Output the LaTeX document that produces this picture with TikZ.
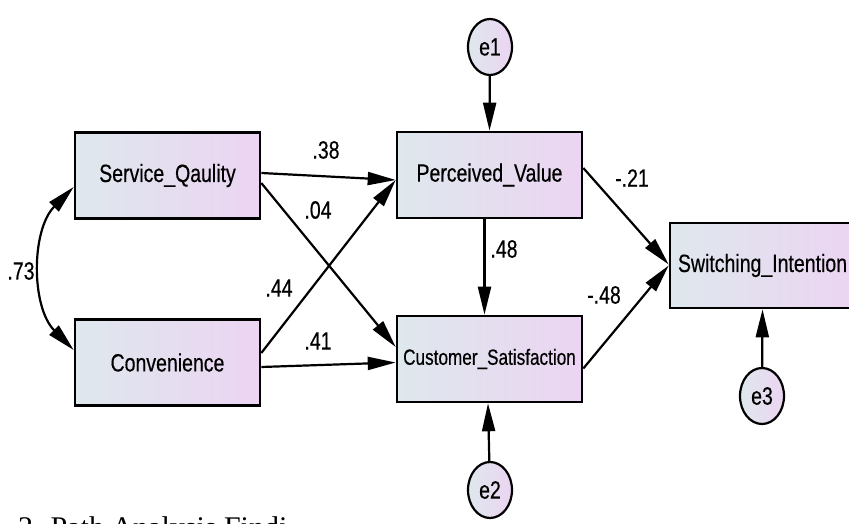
\documentclass[tikz,border=0pt]{standalone}
\usepackage{fontspec}
\newfontfamily\amos{Liberation Sans}[FakeStretch=0.78,FakeBold=0.4]
\newfontfamily\capfont{Liberation Serif}
\usetikzlibrary{arrows.meta,shapes.geometric}
\definecolor{lcol}{RGB}{222,232,237}
\definecolor{rcol}{RGB}{236,212,242}
\begin{document}
\begin{tikzpicture}[x=1pt,y=-1pt,
  var/.style={draw=black, line width=2.6pt, left color=lcol, right color=rcol,
    minimum width=185pt, minimum height=86pt, inner sep=0pt,
    font=\amos\fontsize{25}{30}\selectfont},
  err/.style={ellipse, draw=black, line width=2.2pt, left color=lcol, right color=rcol,
    minimum width=44pt, minimum height=56pt, inner sep=0pt,
    font=\amos\fontsize{25}{30}\selectfont},
  arr/.style={line width=2.2pt, -{Triangle[length=28pt,width=13pt]}},
  coef/.style={font=\amos\fontsize{25}{30}\selectfont, inner sep=0pt}]
\useasboundingbox (0,0) rectangle (849,524);
% boxes
\node[var] (SQ) at (167.5,175.5) {Service\_Qaulity};
\node[var] (CV) at (167.5,362.5) {Convenience};
\node[var] (PV) at (489.5,175) {Perceived\_Value};
\node[var, font=\amos\fontsize{22}{26}\selectfont] (CS) at (489.5,359) {Customer\_Satisfaction};
\node[var, minimum height=85pt] (SI) at (762.5,265.5) {Switching\_Intention};
% errors
\node[err] (e1) at (490,47) {e1};
\node[err] (e2) at (490,490) {e2};
\node[err] (e3) at (762,396) {e3};
% paths
\draw[arr] ([yshift=2.5pt]SQ.east) -- ([yshift=-5pt]PV.west);
\draw[arr] ([yshift=-7.5pt]SQ.east) -- ([yshift=12pt]CS.west);
\draw[arr] ([yshift=9.5pt]CV.east) -- ([yshift=-5pt]PV.west);
\draw[arr] ([yshift=-4.5pt]CV.east) -- ([yshift=-3.5pt]CS.west);
\draw[arr] ([xshift=-5pt]PV.south) -- ([xshift=-5pt]CS.north);
\draw[arr] ([yshift=7pt]PV.east) -- ([yshift=1pt]SI.west);
\draw[arr] ([yshift=-9.5pt]CS.east) -- ([yshift=0pt]SI.west);
\draw[arr] (e1) -- (PV.north);
\draw[arr] (e2) -- ([xshift=-1.5pt]CS.south);
\draw[arr] (e3) -- (SI.south);
% covariance
\draw[line width=2.2pt, {Triangle[length=28pt,width=13pt]}-{Triangle[length=28pt,width=13pt]}]
  ([yshift=-11.5pt]SQ.west) .. controls (31,230) and (31,307) .. ([yshift=12.5pt]CV.west);
% coefficients
\node[coef] (c38) at (326,150) {.38};
\node[coef] (c04) at (318,210) {.04};
\node[coef] (c44) at (279,288) {.44};
\node[coef] (c41) at (318,341) {.41};
\node[coef] (c48) at (504,249) {.48};
\node[coef] (c21) at (632,178) {-.21};
\node[coef] (cm48) at (604,295) {-.48};
\node[coef] (c73) at (21,271) {.73};
% caption (cut off by the page edge, as in the reference)
\node[anchor=base west, inner sep=0pt, font=\capfont\fontsize{30}{36}\selectfont] (cap) at (18,537) {2. Path Analysis Findi};
\end{tikzpicture}
\end{document}
